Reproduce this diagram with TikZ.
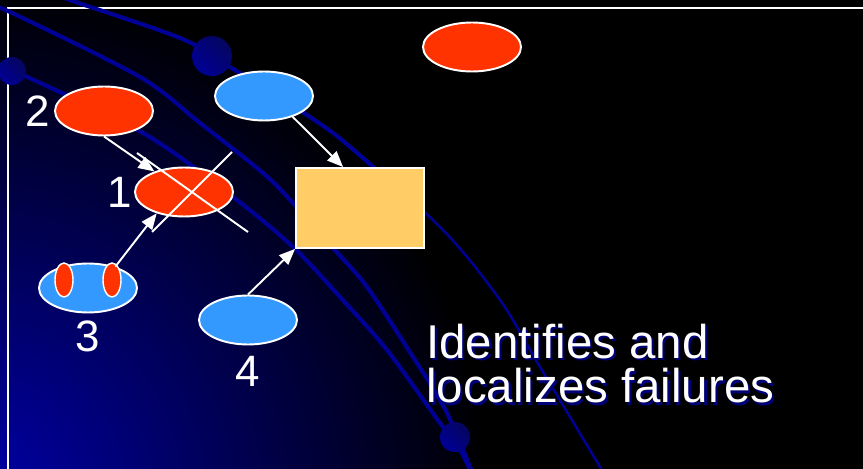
\documentclass[tikz,border=0pt]{standalone}
\usepackage{fontspec}
\setmainfont{Liberation Sans}
\usepackage{xcolor}
\usetikzlibrary{arrows.meta, shapes.geometric, calc, positioning}
\definecolor{redfill}{RGB}{255,51,0}
\definecolor{bluefill}{RGB}{51,153,255}
\definecolor{boxfill}{RGB}{255,204,102}
\definecolor{arcblue}{RGB}{0,0,150}
\definecolor{dotlight}{RGB}{0,0,150}
\definecolor{dotdark}{RGB}{5,5,95}
\definecolor{cornerblue}{RGB}{0,0,170}
\definecolor{shadowblue}{RGB}{0,0,120}
\newcommand{\shadowed}[1]{\leavevmode\rlap{\kern1.2pt\raisebox{-1.2pt}{\color{shadowblue}#1}}#1}

\begin{document}
\begin{tikzpicture}[x=0.02cm, y=-0.02cm,
    oval/.style={ellipse, draw=white, line width=1.1pt, minimum width=1.96cm, minimum height=0.98cm, inner sep=0pt},
    redoval/.style={oval, fill=redfill},
    blueoval/.style={oval, fill=bluefill},
    eye/.style={ellipse, draw=white, line width=0.8pt, fill=redfill, minimum width=0.36cm, minimum height=0.68cm, inner sep=0pt},
    num/.style={text=white, font=\fontsize{25}{25}\selectfont, inner sep=0pt},
    arr/.style={white, line width=1.1pt, -{Triangle[length=0.32cm, width=0.26cm]}},
    orbit/.style={arcblue, line width=2.3pt},
    planet/.style={top color=dotdark, bottom color=dotlight, shading angle=-45}]
    \useasboundingbox (0,0) rectangle (863,469);
    % background
    \begin{scope}
        \clip (0,0) rectangle (863,469);
        \fill[black] (0,0) rectangle (863,469);
        \shade[inner color=cornerblue, outer color=black] (-30,500) circle[radius=520];
        \draw[white, line width=1.1pt] (8,480) -- (8,8) -- (875,8);
        % orbits
        \draw[orbit] plot[smooth] coordinates {(-10,62) (12,70) (143,133) (233,197) (293,247) (340,297) (387,350) (440,423) (455,440) (475,480)};
        \draw[orbit] plot[smooth] coordinates {(-20,2) (10,12) (140,77) (200,123) (263,173) (293,203) (333,248) (367,287) (413,357) (447,413) (475,480)};
        \draw[orbit, line width=1.4pt] plot[smooth] coordinates {(40,-12) (70,0) (180,38) (230,67) (333,133) (440,227) (500,300) (540,367) (600,467) (607,480)};
        \draw[orbit] plot[smooth] coordinates {(40,-12) (70,0) (180,38) (230,67) (333,133) (420,210)};
        \shade[planet] (212,56) circle[radius=20];
        \shade[planet] (12,71) circle[radius=14];
        \shade[planet] (455,437) circle[radius=15];
    \end{scope}

    \node[redoval] (n2) at (104,111) {};
    \node[blueoval] (ntop) at (264,96) {};
    \node[redoval] (n1) at (184,192) {};
    \node[blueoval] (n3) at (88,288) {};
    \node[blueoval] (n4) at (248,320) {};
    \node[redoval] (nred) at (472,47) {};
    \node[draw=white, fill=boxfill, line width=1.1pt, minimum width=2.56cm, minimum height=1.6cm, inner sep=0pt] (box) at (360,208) {};
    \node[eye] (eyel) at ($(n3)+(-24,-8)$) {};
    \node[eye] (eyer) at ($(n3)+(24,-8)$) {};

    \node[num, left=0.08cm of n2] (l2) {2};
    \node[num, left=0.03cm of n1] (l1) {1};
    \node[num, below=0.14cm of n3] (l3) {3};
    \node[num, below=0.2cm of n4] (l4) {4};

    % crossed out
    \draw[white, line width=1.1pt] ($(n1)+(-47,-39)$) -- ($(n1)+(64,40)$);
    \draw[white, line width=1.1pt] ($(n1)+(-32,40)$) -- ($(n1)+(48,-40)$);

    \draw[arr] (n2.south) -- (n1);
    \draw[arr] (n3.38) -- (n1.218);
    \draw[arr] (ntop.324) -- ($(box.north west)!0.37!(box.north east)$);
    \draw[arr] (n4.north) -- (box.south west);

    \node[text=white, font=\fontsize{27}{25.6}\selectfont, align=left, anchor=base west, inner sep=0pt] (caption) at (426,403) {\shadowed{Identifies and}\\\shadowed{localizes failures}};
\end{tikzpicture}
\end{document}
